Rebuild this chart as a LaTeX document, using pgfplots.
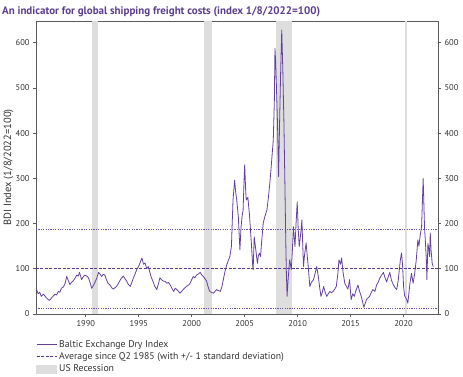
\documentclass[border=0pt]{standalone}
\usepackage{fontspec}
\setmainfont{PT Sans}
\usepackage{pgfplots}
\pgfplotsset{compat=1.18}
\definecolor{bdi}{RGB}{100,66,156}
\definecolor{avg}{RGB}{88,58,138}
\definecolor{dot}{RGB}{110,80,165}
\definecolor{ttl}{RGB}{92,62,142}
\definecolor{recgray}{RGB}{222,222,222}
\definecolor{axgray}{RGB}{90,90,90}
\begin{document}
\begin{tikzpicture}
\path[use as bounding box] (0,0) rectangle (463bp,377bp);
\node[anchor=west, text=ttl, font=\fontsize{11}{12}\selectfont\bfseries, inner sep=0] at (2bp,365bp) {An indicator for global shipping freight costs (index 1/8/2022=100)};
\begin{axis}[
  at={(36bp,63bp)}, anchor=south west,
  scale only axis, width=402bp, height=293bp,
  xmin=1985.3, xmax=2023.25, ymin=0, ymax=648,
  xtick={1990,1995,...,2020},
  ytick={0,100,...,600},
  xtick pos=lower, ytick pos=left,
  tick align=outside,
  major tick length=3bp,
  axis line style={axgray, line width=0.7pt},
  every tick/.style={axgray, line width=0.6pt},
  /pgf/number format/assume math mode=true,
  /pgf/number format/1000 sep={},
  tick label style={font=\fontsize{8.5}{9}\selectfont, text=black!80},
  ylabel={BDI Index (1/8/2022=100)},
  ylabel style={font=\fontsize{10.5}{11}\selectfont, text=black!80, at={(axis description cs:0,0.5)}, anchor=south, yshift=19bp},
  legend style={at={(axis description cs:0,-0.082)}, anchor=north west, draw=none, fill=none,
    font=\fontsize{9.8}{11}\selectfont, inner sep=0pt, row sep=0bp, cells={anchor=west, text=black!80}},
  legend cell align=left,
  legend image code/.code={\draw[#1] (0bp,0bp) -- (20bp,0bp);},
]
\addlegendimage{color=bdi, line width=0.7pt}
\addlegendentry{Baltic Exchange Dry Index}
\addlegendimage{color=avg, line width=1pt, dash pattern=on 3pt off 1.5pt}
\addlegendentry{Average since Q2 1985 (with +/- 1 standard deviation)}
\addlegendimage{legend image code/.code={\fill[recgray] (0bp,-4bp) rectangle (20bp,4bp);}}
\addlegendentry{US Recession}

\addplot[fill=recgray, draw=none, forget plot] coordinates {(1990.55,0) (1990.55,648) (1991.2,648) (1991.2,0)} -- cycle;
\addplot[fill=recgray, draw=none, forget plot] coordinates {(2001.2,0) (2001.2,648) (2001.9,648) (2001.9,0)} -- cycle;
\addplot[fill=recgray, draw=none, forget plot] coordinates {(2007.95,0) (2007.95,648) (2009.45,648) (2009.45,0)} -- cycle;
\addplot[fill=recgray, draw=none, forget plot] coordinates {(2020.12,0) (2020.12,648) (2020.3,648) (2020.3,0)} -- cycle;

\addplot[dot, line width=1.1pt, dash pattern=on 1.2pt off 1.2pt, forget plot] coordinates {(1985.3,186) (2023.25,186)};
\addplot[dot, line width=1.1pt, dash pattern=on 1.2pt off 1.2pt, forget plot] coordinates {(1985.3,13) (2023.25,13)};
\addplot[avg, line width=1pt, dash pattern=on 3pt off 1.5pt, forget plot] coordinates {(1985.3,100) (2023.25,100)};

\addplot[bdi, line width=0.8pt, line join=round, forget plot] table {
x y
1985.35 54
1985.5 45
1985.65 48
1985.8 39
1986.0 44
1986.2 38
1986.4 33
1986.57 30
1986.75 35
1986.9 39
1987.1 44
1987.25 42
1987.4 50
1987.55 48
1987.7 57
1987.9 60
1988.05 68
1988.2 83
1988.35 74
1988.5 65
1988.65 70
1988.8 73
1989.0 80
1989.15 86
1989.3 84
1989.4 92
1989.5 85
1989.6 76
1989.75 82
1989.9 86
1990.1 84
1990.25 80
1990.4 70
1990.55 57
1990.7 62
1990.9 72
1991.05 80
1991.2 92
1991.35 88
1991.5 83
1991.65 88
1991.8 86
1991.95 76
1992.1 68
1992.3 64
1992.45 58
1992.6 55
1992.75 58
1992.9 61
1993.05 66
1993.2 73
1993.35 79
1993.55 84
1993.7 78
1993.85 73
1994.0 66
1994.2 61
1994.35 70
1994.5 80
1994.65 88
1994.8 98
1995.0 106
1995.15 115
1995.3 124
1995.45 110
1995.6 113
1995.75 100
1995.9 105
1996.05 92
1996.2 80
1996.35 72
1996.5 62
1996.7 54
1996.85 66
1997.0 80
1997.15 76
1997.3 73
1997.5 72
1997.65 68
1997.8 70
1997.95 65
1998.1 58
1998.3 50
1998.45 57
1998.6 54
1998.75 50
1998.9 46
1999.05 50
1999.2 54
1999.35 58
1999.5 61
1999.7 64
1999.85 68
2000.0 76
2000.15 83
2000.3 80
2000.45 86
2000.6 88
2000.8 92
2000.95 86
2001.1 83
2001.25 78
2001.4 73
2001.55 60
2001.7 50
2001.85 48
2002.05 46
2002.2 50
2002.35 54
2002.5 52
2002.7 50
2002.85 60
2003.0 78
2003.15 95
2003.3 108
2003.45 118
2003.6 127
2003.75 150
2003.8 186
2003.9 252
2004.05 296
2004.15 270
2004.25 252
2004.4 215
2004.55 142
2004.65 190
2004.75 215
2004.85 230
2004.95 300
2005.0 330
2005.1 270
2005.15 252
2005.3 258
2005.45 220
2005.55 185
2005.65 149
2005.75 110
2005.8 98
2005.9 171
2006.05 142
2006.2 112
2006.3 130
2006.4 134
2006.5 127
2006.6 160
2006.75 201
2006.9 215
2007.1 230
2007.25 260
2007.4 296
2007.55 340
2007.7 385
2007.8 470
2007.86 587
2007.92 560
2008.0 502
2008.1 420
2008.2 304
2008.3 429
2008.4 540
2008.5 628
2008.6 539
2008.7 429
2008.8 282
2008.88 160
2008.93 98
2009.0 39
2009.1 76
2009.25 120
2009.4 98
2009.5 140
2009.6 193
2009.75 149
2009.85 200
2009.96 248
2010.05 190
2010.15 149
2010.3 180
2010.4 208
2010.55 105
2010.65 130
2010.8 157
2010.9 130
2011.0 105
2011.15 61
2011.3 70
2011.5 76
2011.65 90
2011.8 105
2011.95 83
2012.1 55
2012.2 39
2012.35 50
2012.45 61
2012.6 48
2012.75 39
2012.9 45
2013.05 50
2013.2 47
2013.35 50
2013.5 55
2013.65 61
2013.8 90
2013.9 120
2014.05 110
2014.15 124
2014.3 90
2014.45 68
2014.6 61
2014.75 55
2014.9 76
2015.05 32
2015.2 45
2015.35 39
2015.5 52
2015.7 64
2015.85 50
2016.0 39
2016.15 25
2016.25 15
2016.4 25
2016.5 32
2016.65 36
2016.8 39
2016.95 48
2017.1 54
2017.3 50
2017.45 64
2017.6 70
2017.75 79
2017.9 85
2018.1 92
2018.25 80
2018.4 71
2018.55 82
2018.7 92
2018.85 75
2019.05 64
2019.2 58
2019.35 54
2019.5 75
2019.6 98
2019.7 120
2019.8 135
2019.9 110
2020.0 61
2020.1 40
2020.3 32
2020.4 24
2020.5 45
2020.6 68
2020.75 90
2020.9 68
2021.05 90
2021.2 120
2021.35 164
2021.45 150
2021.55 171
2021.7 193
2021.78 250
2021.85 300
2021.92 240
2021.98 190
2022.05 164
2022.15 120
2022.2 76
2022.3 156
2022.4 140
2022.45 127
2022.52 179
2022.6 140
2022.7 112
2022.8 105
};
\end{axis}
\begin{axis}[
  at={(36bp,63bp)}, anchor=south west,
  scale only axis, width=402bp, height=293bp,
  xmin=1985.3, xmax=2023.25, ymin=0, ymax=648,
  axis y line*=right, axis x line=none,
  ytick={0,100,...,600},
  tick align=outside,
  major tick length=3bp,
  axis line style={axgray, line width=0.7pt},
  every tick/.style={axgray, line width=0.6pt},
  /pgf/number format/assume math mode=true,
  tick label style={font=\fontsize{8.5}{9}\selectfont, text=black!80},
]
\addplot[draw=none] coordinates {(2000,0)};
\end{axis}
\end{tikzpicture}
\end{document}
